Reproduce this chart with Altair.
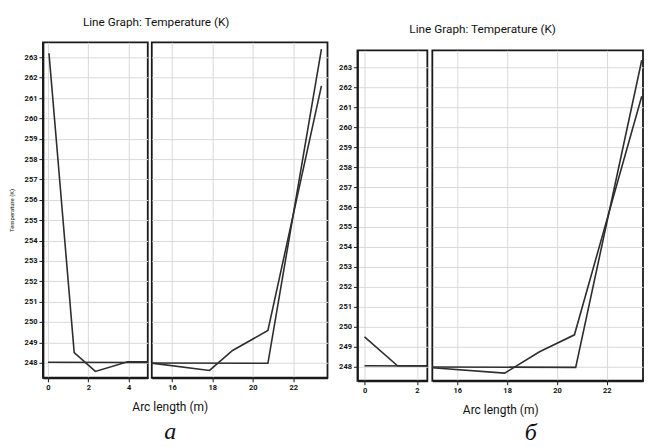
import altair as alt
import pandas as pd

# ---- Panel а : arc length (m) / temperature (K) ----
a_flat_x = [0.0, 20.75, 23.4]
a_flat_y = [248.02, 247.97, 263.4]
a_curve_x = [0.05, 1.3, 2.35, 3.95, 4.95, 15.0, 17.86, 19.0, 20.75, 23.4]
a_curve_y = [263.2, 248.5, 247.57, 248.05, 248.04, 247.98, 247.62, 248.6, 249.58, 261.6]

# ---- Panel б ----
b_flat_x = [0.0, 20.75, 23.4]
b_flat_y = [248.05, 247.97, 263.35]
b_curve_x = [0.0, 1.26, 2.4, 15.0, 17.9, 19.3, 20.7, 23.4]
b_curve_y = [249.5, 248.05, 248.05, 247.95, 247.68, 248.75, 249.6, 261.55]

y_ticks = list(range(248, 264))
a_left_ticks = [0, 2, 4]
b_left_ticks = [0, 2]
right_ticks = [16, 18, 20, 22]

chart_title = "Line Graph: Temperature (K)"
x_title = "Arc length (m)"
y_title = "Temperature (K)"


def make_df(fx, fy, cx, cy):
    rows = []
    for i, (x, y) in enumerate(zip(fx, fy)):
        rows.append({"x": x, "T": y, "s": "flat", "i": i})
    for i, (x, y) in enumerate(zip(cx, cy)):
        rows.append({"x": x, "T": y, "s": "curve", "i": i})
    return pd.DataFrame(rows)


LINE = "#2e2e2e"


def segment(df, xdom, ydom, width, height, xticks, left, xt, xt_x, xt_y,
            caption=False, ytitle="", title=None):
    ax_kw = dict(values=xticks, title=xt, titleX=xt_x, titleY=xt_y,
                 titleAlign="center", titleBaseline="middle")
    if caption:
        ax_kw.update(titleFont="Liberation Serif", titleFontSize=24,
                     titleFontStyle="italic", titleFontWeight="normal")
    else:
        ax_kw.update(titleFont="Roboto", titleFontSize=12,
                     titleFontWeight="normal")
    if left:
        y_axis = alt.Axis(values=y_ticks, title=ytitle, titleFontSize=6,
                          titleFontWeight="normal", titleFont="Roboto",
                          titleX=-31, titleY=height / 2,
                          titleAlign="center", titleBaseline="middle")
    else:
        y_axis = alt.Axis(values=y_ticks, title="", labels=False, ticks=False,
                          domain=False)
    ch = alt.Chart(df).mark_line(color=LINE, strokeWidth=1.6, clip=True).encode(
        x=alt.X("x:Q", scale=alt.Scale(domain=xdom, nice=False, zero=False),
                axis=alt.Axis(**ax_kw)),
        y=alt.Y("T:Q", scale=alt.Scale(domain=ydom, nice=False, zero=False),
                axis=y_axis),
        detail="s:N",
        order="i:Q",
    )
    props = dict(width=width, height=height)
    if title is not None:
        props["title"] = title
    return ch.properties(**props)


df_a = make_df(a_flat_x, a_flat_y, a_curve_x, a_curve_y)
df_b = make_df(b_flat_x, b_flat_y, b_curve_x, b_curve_y)

ya = [247.26, 263.74]
yb = [247.3, 263.85]

title_a = alt.TitleParams(chart_title, anchor="start", frame="group", dx=40,
                          offset=14, font="Roboto", fontSize=11.8,
                          fontWeight="normal", color="#111111")
title_b = alt.TitleParams(chart_title, anchor="start", frame="group", dx=52,
                          offset=7, font="Roboto", fontSize=11.8,
                          fontWeight="normal", color="#111111")

aL = segment(df_a, [-0.25, 4.95], ya, 105, 336, a_left_ticks, True,
             "а", 127, 54, caption=True, ytitle=y_title, title=title_a)
aR = segment(df_a, [15, 23.7], ya, 176, 336, right_ticks, False,
             x_title, 18, 29)
bL = segment(df_b, [-0.27, 2.4], yb, 70, 331, b_left_ticks, True,
             "б", 173, 52, caption=True)
bR = segment(df_b, [15, 23.45], yb, 211, 331, right_ticks, False,
             x_title, 68, 29)

panel_a = alt.hconcat(aL, aR, spacing=4, bounds="flush")
panel_b = alt.hconcat(bL, bR, spacing=5, bounds="flush")

spacer = alt.Chart(pd.DataFrame({"v": [0]})).mark_rule(strokeOpacity=0).encode(
    x=alt.value(0), y=alt.value(0), y2=alt.value(1)
).properties(width=1, height=1, title=title_b,
             view=alt.ViewBackground(strokeOpacity=0))

col_b = alt.vconcat(spacer, panel_b, spacing=6)

chart = alt.hconcat(panel_a, col_b, spacing=9).properties(
    padding={"left": 0, "top": 7, "right": 0, "bottom": 0}
).configure_view(
    stroke="#1a1a1a", strokeWidth=1.8
).configure_axis(
    gridColor="#d9d9d9", gridWidth=1,
    labelFont="Roboto", labelFontSize=7.5, labelFontWeight="bold",
    labelColor="#111111", tickColor="#1a1a1a", domainColor="#1a1a1a",
    domainWidth=1.8, tickSize=4, labelPadding=2, titleColor="#111111",
)

chart.save("out.html", embed_options={"renderer": "svg", "actions": False})
